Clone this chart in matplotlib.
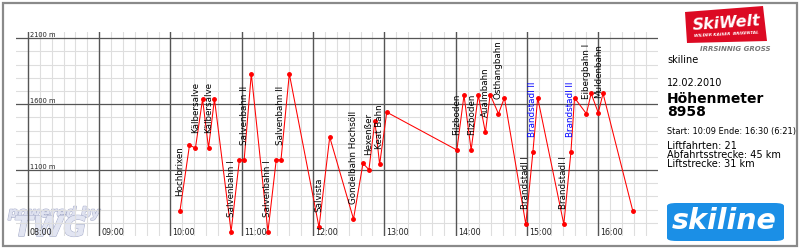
import matplotlib
matplotlib.use("Agg")
import matplotlib.pyplot as plt
import matplotlib.patheffects as pe
from matplotlib.patches import Rectangle, FancyBboxPatch, Polygon
from matplotlib.transforms import Bbox
import numpy as np

# ---------------- data ----------------
times = ["10:08", "10:16", "10:21", "10:27", "10:32", "10:37", "10:51", "10:58",
         "11:02", "11:08", "11:22", "11:29", "11:33", "11:40", "12:05", "12:14",
         "12:34", "12:42", "12:47", "12:52", "12:56", "13:02", "14:01", "14:07",
         "14:13", "14:19", "14:25", "14:29", "14:36", "14:41", "14:59", "15:05",
         "15:09", "15:31", "15:37", "15:40", "15:50", "15:54", "16:00", "16:04",
         "16:29"]
altitudes = [792, 1289, 1267, 1638, 1267, 1638, 633, 1178, 1178, 1830, 633,
             1178, 1178, 1830, 666, 1350, 729, 1151, 1103, 1471, 1143, 1539,
             1252, 1668, 1252, 1668, 1385, 1673, 1527, 1648, 689, 1239, 1648,
             689, 1239, 1648, 1527, 1681, 1534, 1681, 792]
lift_names = ["Hochbrixen", "Kälbersalve", "Kälbersalve", "Salvenbahn I",
              "Salvenbahn II", "Salvenbahn I", "Salvenbahn II", "Salvista",
              "Gondelbahn Hochsöll", "Hexenßer", "Keat Bahn", "Filzboden",
              "Filzboden", "Aualmbahn", "Osthangbahn", "Brandstadl I",
              "Brandstadl II", "Brandstadl I", "Brandstadl II", "Eibergbahn I",
              "Muldenbahn"]
lift_start = [0, 2, 4, 6, 8, 10, 12, 14, 16, 18, 20, 22, 24, 26, 28, 30, 31,
              33, 34, 36, 38]
lift_colors = ["black"] * 16 + ["blue", "black", "blue", "black", "black"]
hour_ticks = ["08:00", "09:00", "10:00", "11:00", "12:00", "13:00", "14:00",
              "15:00", "16:00"]
alt_major = [1100, 1600, 2100]
alt_labels = ["1100 m", "1600 m", "2100 m"]


def to_h(s):
    h, m = s.split(":")
    return int(h) + int(m) / 60.0


t = np.array([to_h(s) for s in times])
a = np.array(altitudes)

W, H = 800, 253
fig = plt.figure(figsize=(W / 100, H / 100), dpi=100)
fig.patch.set_facecolor("white")


def fx(x):
    return x / W


def fy(y):
    return 1 - y / H


# axes in pixel geometry
x0, x1 = 16, 657.7
y_top, y_bot = 33, 237
ax = fig.add_axes([fx(x0), fy(y_bot), (x1 - x0) / W, (y_bot - y_top) / H])
ax.set_zorder(1)
ax.patch.set_visible(False)
xmin, xmax = 7 + 50 / 60, 16 + 50 / 60
ax.set_xlim(xmin, xmax)
ax.set_ylim(600, 2147)
ax.axis("off")

# grid
minor_c = "#dedede"
major_c = "#555555"
for alt in range(700, 2101, 100):
    if alt in alt_major:
        ax.axhline(alt, color=major_c, lw=0.9, zorder=2)
    else:
        ax.axhline(alt, color=minor_c, lw=0.8, zorder=1)
k = 1
while True:
    v = xmin + k / 6
    if v >= xmax - 1e-6:
        break
    if abs(v - round(v)) < 1e-6:
        ax.axvline(v, color=major_c, lw=1.0, zorder=2)
    else:
        ax.axvline(v, color=minor_c, lw=0.8, zorder=1)
    k += 1

# time labels
for lab in hour_ticks:
    ax.annotate(lab, xy=(to_h(lab), 0), xycoords=("data", "axes fraction"),
                xytext=(2, 4), textcoords="offset pixels", fontsize=5.8,
                ha="left", va="center", color="#222222", zorder=5)
# altitude labels
for alt, lab in zip(alt_major, alt_labels):
    ax.annotate(lab, xy=(8.0, alt), xytext=(2, 1), textcoords="offset pixels",
                fontsize=4.8, ha="left", va="bottom", color="#222222", zorder=5)

# profile line
ax.plot(t, a, color="#ff0000", lw=0.75, marker="o", ms=2.5, zorder=4)

# lift labels
for name, idx, col in zip(lift_names, lift_start, lift_colors):
    ax.annotate(name, xy=(t[idx], a[idx]), xytext=(0, 16),
                textcoords="offset pixels", rotation=90, ha="center",
                va="bottom", fontsize=6.3, color=col, zorder=6)

# ---------------- right panel ----------------
fig.text(fx(667), fy(60), "skiline", fontsize=7, va="center", ha="left")
fig.text(fx(667), fy(83), "12.02.2010", fontsize=7, va="center", ha="left")
fig.text(fx(667), fy(99), "Höhenmeter", fontsize=10, fontweight="bold",
         va="center", ha="left")
fig.text(fx(667), fy(111.5), "8958", fontsize=10, fontweight="bold",
         va="center", ha="left")
st = fig.text(fx(667), fy(131.5), "Start: 10:09 Ende: 16:30 (6:21)",
              fontsize=5.95, va="center", ha="left")
st.set_clip_box(Bbox([[0, 0], [796, H]]))
st.set_clip_on(True)
for yy, s in zip([145.7, 155, 164.3],
                 ["Liftfahrten: 21", "Abfahrtsstrecke: 45 km",
                  "Liftstrecke: 31 km"]):
    fig.text(fx(667), fy(yy), s, fontsize=7, va="center", ha="left")

# skiline logo
logo = FancyBboxPatch((fx(667), fy(242)), (784 - 667) / W, (242 - 204) / H,
                      boxstyle="round,pad=0,rounding_size=0.012",
                      transform=fig.transFigure, facecolor="#1b8fe6",
                      edgecolor="none", zorder=3)
fig.patches.append(logo)
fig.text(fx(724), fy(221), "skiline", fontsize=20.5, fontweight="bold",
         style="italic", color="white", ha="center", va="center", zorder=4)

# SkiWelt logo
poly = Polygon([(fx(685), fy(13)), (fx(763), fy(7)), (fx(767), fy(42)),
                (fx(687), fy(44))], closed=True, transform=fig.transFigure,
               facecolor="#dc0a23", edgecolor="none", zorder=3)
fig.patches.append(poly)
fig.text(fx(726), fy(23), "SkiWelt", fontsize=11.5, fontweight="bold",
         style="italic", color="white", ha="center", va="center",
         rotation=4, zorder=4)
fig.text(fx(726), fy(34), "WILDER KAISER  BRIXENTAL", fontsize=3,
         fontweight="bold", style="italic", color="white", ha="center",
         va="center", rotation=3, zorder=4)
fig.text(fx(735), fy(49), "IRRSINNIG GROSS", fontsize=5, fontweight="bold",
         style="italic", color="#777777", ha="center", va="center", zorder=4)

# powered by TWG (watermark, beneath the chart grid)
pb = fig.text(fx(54), fy(214), "powered by", fontsize=10, fontweight="bold",
              style="italic", color="#dfe2f0", ha="center", va="center",
              zorder=0.5)
pb.set_path_effects([pe.withStroke(linewidth=1.0, foreground="#aab0cc"),
                     pe.Normal()])
tw = fig.text(fx(50), fy(229), "TWG", fontsize=20, fontweight="bold",
              style="italic", color="#e2e5f2", ha="center", va="center",
              zorder=0.5)
tw.set_path_effects([pe.withStroke(linewidth=1.0, foreground="#aab0cc"),
                     pe.Normal()])

# border
border = Rectangle((fx(3), fy(247)), (797 - 3) / W, (247 - 4) / H,
                   transform=fig.transFigure, facecolor="none",
                   edgecolor="#8a8a8a", lw=1.6, zorder=10)
fig.patches.append(border)

fig.savefig("out.png", dpi=100)
